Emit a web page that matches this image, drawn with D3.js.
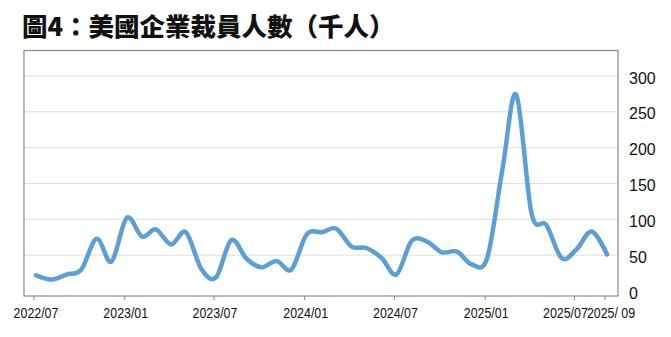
<!DOCTYPE html>
<html>
<head>
<meta charset="utf-8">
<script src="https://cdn.jsdelivr.net/npm/d3@7"></script>
<style>
  body { margin: 0; background: #fff; }
  svg { display: block; }
</style>
</head>
<body>
<svg id="chart" width="671" height="337"></svg>
<script>
// monthly layoffs, thousands
const months = ["2022-07","2022-08","2022-09","2022-10","2022-11","2022-12",
  "2023-01","2023-02","2023-03","2023-04","2023-05","2023-06","2023-07","2023-08","2023-09","2023-10","2023-11","2023-12",
  "2024-01","2024-02","2024-03","2024-04","2024-05","2024-06","2024-07","2024-08","2024-09","2024-10","2024-11","2024-12",
  "2025-01","2025-02","2025-03","2025-04","2025-05","2025-06","2025-07","2025-08","2025-09"];
const layoffs = [22, 16, 23, 30, 73, 41,
  102, 76, 86, 65, 82, 31, 19, 71, 45, 33, 42, 30,
  79, 82, 87, 62, 60, 46, 23, 70, 69, 54, 55, 37,
  46, 170, 274, 108, 92, 46, 58, 83, 51];
const xTickDates = ["2022-07","2023-01","2023-07","2024-01","2024-07","2025-01","2025-07","2025-09"];
const xTickLabels = ["2022/07","2023/01","2023/07","2024/01","2024/07","2025/01","2025/07","2025/ 09"];
const yTicks = [0, 50, 100, 150, 200, 250, 300];
const title = "圖4：美國企業裁員人數（千人）";

const svg = d3.select("#chart");
const parse = d3.timeParse("%Y-%m");
const data = months.map((m, i) => ({date: parse(m), value: layoffs[i]}));

const frame = {left: 24, right: 618, top: 50.5, bottom: 296};

const x = d3.scaleTime()
    .domain([parse(months[0]), parse(months[months.length - 1])])
    .range([36, 607]);
const y = d3.scaleLinear().domain([0, 300]).range([291, 76]);

svg.append("text")
    .attr("x", 22)
    .attr("y", 36)
    .attr("font-family", "'Noto Sans CJK TC', 'Noto Sans CJK SC', serif")
    .attr("font-weight", 900)
    .attr("font-size", 25.5)
    .attr("fill", "#111")
    .text(title);

// grid
svg.append("g")
    .selectAll("line")
    .data(yTicks.filter(d => d > 0))
    .join("line")
    .attr("x1", frame.left)
    .attr("x2", frame.right)
    .attr("y1", d => y(d))
    .attr("y2", d => y(d))
    .attr("stroke", "#dedede")
    .attr("stroke-width", 1);

svg.append("rect")
    .attr("x", frame.left)
    .attr("y", frame.top)
    .attr("width", frame.right - frame.left)
    .attr("height", frame.bottom - frame.top)
    .attr("fill", "none")
    .attr("stroke", "#8a8a8a")
    .attr("stroke-width", 1.2);

// y labels on the right
svg.append("g")
    .selectAll("text")
    .data(yTicks)
    .join("text")
    .attr("x", 629)
    .attr("y", d => y(d) + 2)
    .attr("dy", "0.35em")
    .attr("font-family", "'Liberation Sans', Arial, sans-serif")
    .attr("font-size", 16)
    .attr("fill", "#111")
    .text(d => d);

// x ticks + labels (last two nudged apart like the original)
const labelShift = [1, 0, 0, 0, 0, 0, -10, 5];
const xg = svg.append("g");
xg.selectAll("line")
    .data(xTickDates.map(parse))
    .join("line")
    .attr("x1", d => x(d) - 2)
    .attr("x2", d => x(d) - 2)
    .attr("y1", frame.bottom)
    .attr("y2", frame.bottom + 4)
    .attr("stroke", "#8a8a8a");

xg.selectAll("text")
    .data(xTickDates)
    .join("text")
    .attr("transform", (d, i) => `translate(${x(parse(d)) - 1 + labelShift[i]},318) scale(0.8,1)`)
    .attr("text-anchor", "middle")
    .attr("font-family", "'Liberation Sans', Arial, sans-serif")
    .attr("font-size", 15.5)
    .attr("fill", "#111")
    .text((d, i) => xTickLabels[i]);

const line = d3.line()
    .x(d => x(d.date))
    .y(d => y(d.value))
    .curve(d3.curveCardinal.tension(0));

svg.append("path")
    .datum(data)
    .attr("d", line)
    .attr("fill", "none")
    .attr("stroke", "#5b9fd6")
    .attr("stroke-width", 4.5)
    .attr("stroke-linecap", "round")
    .attr("stroke-linejoin", "round");
</script>
</body>
</html>
